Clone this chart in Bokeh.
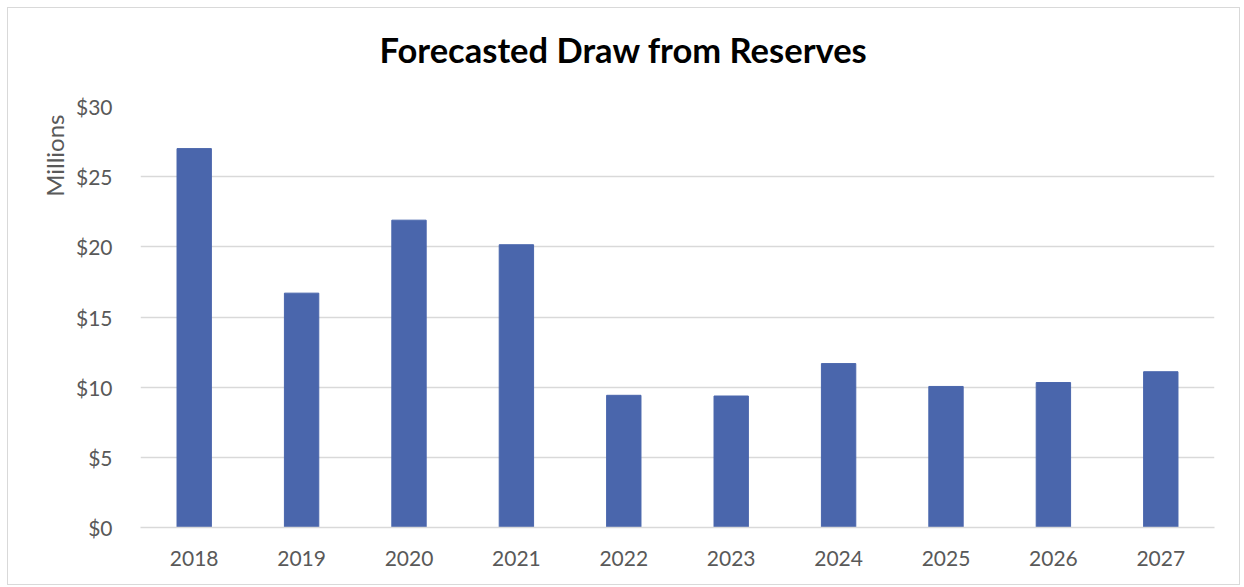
from bokeh.plotting import figure
from bokeh.models import Range1d, FixedTicker, NumeralTickFormatter, Title
from bokeh.embed import file_html
from bokeh.resources import INLINE

years = ["2018", "2019", "2020", "2021", "2022", "2023", "2024", "2025", "2026", "2027"]
draw_millions = [27.0, 16.7, 21.9, 20.15, 9.42, 9.37, 11.68, 10.05, 10.33, 11.1]
y_ticks = [0, 5, 10, 15, 20, 25, 30]

FONT = "Lato"
TXT = "#595959"
W, H = 1233, 578

p = figure(x_range=years, y_range=Range1d(0, 30), width=W, height=H,
           output_backend="svg", toolbar_location=None,
           min_border_left=132, min_border_right=27, min_border_top=98, min_border_bottom=59)
p.styles = {"border": "1px solid #d9d9d9", "margin": "7px 0 0 7px"}
p.outline_line_color = None
p.vbar(x=years, top=draw_millions, width=0.32, color="#4a66ac")

p.xgrid.grid_line_color = None
p.ygrid.grid_line_color = "#d9d9d9"
p.ygrid.grid_line_width = 1.5
p.yaxis.ticker = FixedTicker(ticks=y_ticks)
p.yaxis.formatter = NumeralTickFormatter(format="$0")
for ax in (p.xaxis[0], p.yaxis[0]):
    ax.major_tick_line_color = None
    ax.minor_tick_line_color = None
    ax.major_label_text_font = FONT
    ax.major_label_text_font_size = "21px"
    ax.major_label_text_color = TXT
p.yaxis.axis_line_color = None
p.xaxis.axis_line_color = "#d9d9d9"
p.xaxis.axis_line_width = 1.5
p.xaxis.major_label_standoff = 17
p.yaxis.major_label_standoff = 22

# spacer panel between the frame and the title
spacer = Title(text=" ", standoff=23, text_font=FONT, text_font_size="10px",
               text_color="#ffffff")
p.add_layout(spacer, "above")
main_title = Title(text="Forecasted Draw from Reserves", align="left", offset=239,
                   standoff=0, text_font=FONT, text_font_style="bold",
                   text_font_size="34.5px", text_color="#000000")
p.add_layout(main_title, "above")
ylab = Title(text="Millions", align="right", offset=8, standoff=8,
             text_font=FONT, text_font_style="normal", text_font_size="24px",
             text_color=TXT)
p.add_layout(ylab, "left")

open("out.html", "w").write(file_html(p, INLINE))
